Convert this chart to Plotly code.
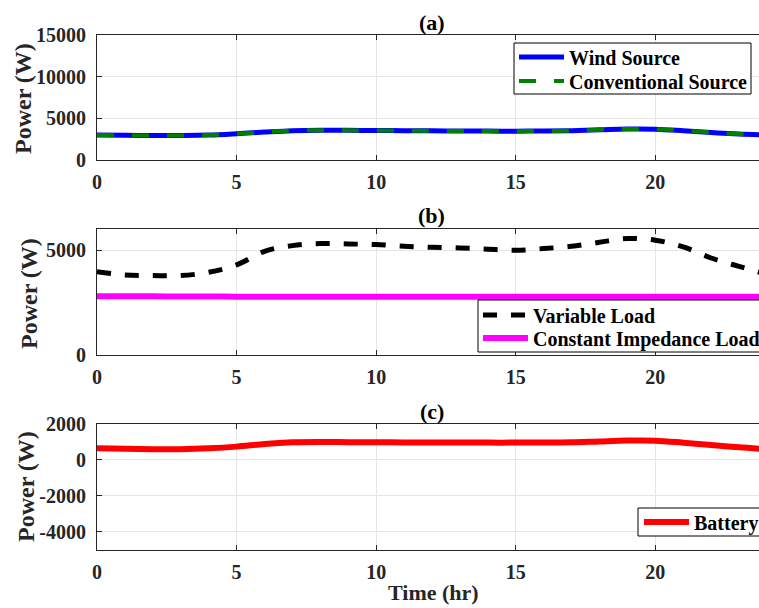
import plotly.graph_objects as go

# ---------------- data ----------------
hours = list(range(0, 25))
wind_source = [2990, 2960, 2930, 2940, 2990, 3150, 3350, 3520, 3580, 3560, 3540, 3520, 3500,
               3480, 3470, 3460, 3480, 3520, 3620, 3720, 3700, 3520, 3300, 3120, 3000]
conventional_source = [2990, 2960, 2930, 2940, 2990, 3150, 3350, 3520, 3580, 3560, 3540, 3520, 3500,
                       3480, 3470, 3460, 3480, 3520, 3620, 3720, 3700, 3520, 3300, 3120, 3000]
variable_load = [3980, 3820, 3790, 3790, 3950, 4300, 4950, 5220, 5320, 5300, 5270, 5190, 5140,
                 5110, 5050, 5000, 5080, 5190, 5380, 5560, 5480, 5160, 4630, 4230, 3850]
constant_impedance_load = [2810, 2805, 2800, 2795, 2790, 2785, 2780, 2778, 2775, 2775, 2775, 2775, 2775,
                           2775, 2775, 2778, 2778, 2778, 2778, 2778, 2778, 2778, 2778, 2778, 2778]
battery = [650, 620, 595, 595, 645, 740, 890, 980, 1000, 990, 980, 975, 970,
           965, 963, 963, 965, 980, 1030, 1075, 1070, 960, 830, 700, 600]

x_ticks = [0, 5, 10, 15, 20]
x_tick_labels = ["0", "5", "10", "15", "20"]
ya_ticks = [0, 5000, 10000, 15000]
ya_tick_labels = ["0", "5000", "10000", "15000"]
yb_ticks = [0, 5000]
yb_tick_labels = ["0", "5000"]
yc_ticks = [-4000, -2000, 0, 2000]
yc_tick_labels = ["-4000", "-2000", "0", "2000"]

panel_titles = ["(a)", "(b)", "(c)"]
y_label = "Power (W)"
x_label = "Time (hr)"

# ---------------- figure ----------------
W, H = 759, 608
L = 97
INK = "#262626"
FONT = "Liberation Serif"

def px_x(p):
    return (p - L) / (W - L)

def px_y(p):
    return 1 - p / H

fig = go.Figure()

fig.add_trace(go.Scatter(x=hours, y=wind_source, name="Wind Source", mode="lines",
                         line=dict(color="#0000ff", width=5, shape="spline"),
                         xaxis="x", yaxis="y", legend="legend"))
fig.add_trace(go.Scatter(x=hours, y=conventional_source, name="Conventional Source", mode="lines",
                         line=dict(color="#008000", width=4, dash="17px,18px", shape="spline"),
                         xaxis="x", yaxis="y", legend="legend2"))
fig.add_trace(go.Scatter(x=hours, y=variable_load, name="Variable Load", mode="lines",
                         line=dict(color="#000000", width=5, dash="14px,14px", shape="spline"),
                         xaxis="x2", yaxis="y2", legend="legend3"))
fig.add_trace(go.Scatter(x=hours, y=constant_impedance_load, name="Constant Impedance Load", mode="lines",
                         line=dict(color="#ff00ff", width=6, shape="spline"),
                         xaxis="x2", yaxis="y2", legend="legend4"))
fig.add_trace(go.Scatter(x=hours, y=battery, name="Battery", mode="lines",
                         line=dict(color="#ff0000", width=6, shape="spline"),
                         xaxis="x3", yaxis="y3", legend="legend5"))

x_end = (W - L) / ((655.3 - 97) / 20)

common_x = dict(range=[0, x_end], tickvals=x_ticks, ticktext=x_tick_labels,
                showgrid=True, gridcolor="#e5e5e5", gridwidth=1,
                showline=True, linecolor=INK, linewidth=1, mirror="ticks",
                ticks="inside", ticklen=5, tickcolor=INK, zeroline=False,
                tickfont=dict(family=FONT, size=20, color=INK, weight="bold"),
                ticklabelstandoff=4, automargin=False, domain=[0, 1])
common_y = dict(showgrid=True, gridcolor="#e5e5e5", gridwidth=1,
                showline=True, linecolor=INK, linewidth=1, mirror=False,
                ticks="inside", ticklen=5, tickcolor=INK, zeroline=False,
                tickfont=dict(family=FONT, size=20, color=INK, weight="bold"),
                ticklabelstandoff=6, automargin=False)

panels = [(35, 160), (229.3, 355), (424, 549.7)]
doms = [[px_y(b), px_y(t)] for t, b in panels]

fig.update_layout(
    width=W, height=H,
    margin=dict(l=L, r=0, t=0, b=0, pad=0, autoexpand=False),
    paper_bgcolor="white", plot_bgcolor="white",
    font=dict(family=FONT, color=INK, weight="bold"),
    xaxis=dict(common_x, anchor="y"),
    xaxis2=dict(common_x, anchor="y2"),
    xaxis3=dict(common_x, anchor="y3"),
    yaxis=dict(common_y, range=[0, 15000], tickvals=ya_ticks, ticktext=ya_tick_labels,
               domain=doms[0], anchor="x"),
    yaxis2=dict(common_y, range=[0, 6000], tickvals=yb_ticks, ticktext=yb_tick_labels,
                domain=doms[1], anchor="x2"),
    yaxis3=dict(common_y, range=[-5000, 2000], tickvals=yc_ticks, ticktext=yc_tick_labels,
                domain=doms[2], anchor="x3"),
    showlegend=True,
)

# legend boxes (frames)
boxes = [(514, 43, 751, 94), (478, 300, 775, 352), (638, 508, 775, 536)]
for x0, y0, x1, y1 in boxes:
    fig.add_shape(type="rect", xref="paper", yref="paper",
                  x0=px_x(x0), x1=px_x(x1), y0=px_y(y1), y1=px_y(y0),
                  line=dict(color="#000000", width=1), fillcolor="white", layer="above")

# one legend per entry so rows can be spaced like the original
leg_common = dict(xanchor="left", yanchor="middle", bgcolor="rgba(0,0,0,0)",
                  borderwidth=0, font=dict(family=FONT, size=20, color="#000000", weight="bold"),
                  itemwidth=45, tracegroupgap=0, orientation="v")
rows = [(518, 57), (518, 81), (482, 315), (482, 338), (643, 522)]
names = ["legend", "legend2", "legend3", "legend4", "legend5"]
fig.update_layout(**{n: dict(leg_common, x=px_x(lx - 4), y=px_y(ly)) for n, (lx, ly) in zip(names, rows)})

# panel titles
title_y = [22, 215, 411.5]
for t, yy in zip(panel_titles, title_y):
    fig.add_annotation(text=t, xref="paper", yref="paper", x=px_x(432), y=px_y(yy),
                       xanchor="center", yanchor="middle", showarrow=False,
                       font=dict(family=FONT, size=22, color="#000000", weight="bold"))

# y labels
ylab_pos = [(23, 99), (29, 294), (26, 487)]
for xx, yy in ylab_pos:
    fig.add_annotation(text=y_label, xref="paper", yref="paper", x=px_x(xx), y=px_y(yy),
                       xanchor="center", yanchor="middle", showarrow=False, textangle=-90,
                       font=dict(family=FONT, size=24, color=INK, weight="bold"))

# x label
fig.add_annotation(text=x_label, xref="paper", yref="paper", x=px_x(433), y=px_y(592),
                   xanchor="center", yanchor="middle", showarrow=False,
                   font=dict(family=FONT, size=22, color=INK, weight="bold"))

fig.write_html("out.html")
